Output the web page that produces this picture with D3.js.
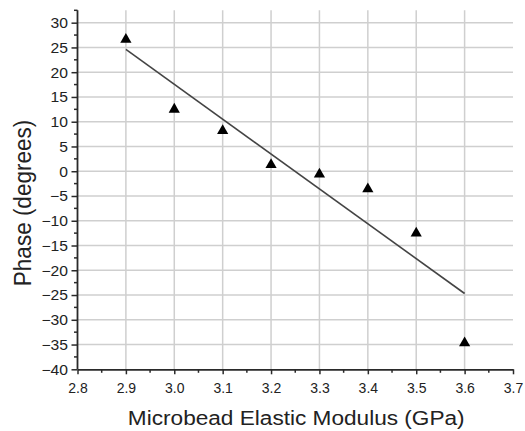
<!DOCTYPE html>
<html>
<head>
<meta charset="utf-8">
<script src="https://cdn.jsdelivr.net/npm/d3@7"></script>
<style>
  html, body { margin: 0; padding: 0; background: #fff; }
  svg { display: block; font-family: "Liberation Sans", Arial, sans-serif; }
</style>
</head>
<body>
<svg id="chart" width="525" height="431"></svg>
<script>
// Data
const modulus = [2.9, 3.0, 3.1, 3.2, 3.3, 3.4, 3.5, 3.6];
const phase = [26.9, 12.8, 8.5, 1.6, -0.3, -3.3, -12.2, -34.4];
const xTicks = [2.8, 2.9, 3.0, 3.1, 3.2, 3.3, 3.4, 3.5, 3.6, 3.7];
const yTicks = [-40, -35, -30, -25, -20, -15, -10, -5, 0, 5, 10, 15, 20, 25, 30];
const xTitle = "Microbead Elastic Modulus (GPa)";
const yTitle = "Phase (degrees)";

const svg = d3.select("#chart");
const mLeft = 77.5, mRight = 513, mTop = 10.3, mBottom = 369.3;

const x = d3.scaleLinear().domain([2.8, 3.7]).range([mLeft, mRight]);
const y = d3.scaleLinear().domain([-40, 32.5]).range([mBottom, mTop]);

// grid
const grid = svg.append("g");
grid.selectAll("line.v").data(xTicks.filter(d => d > 2.85 && d < 3.65)).enter()
  .append("line").attr("x1", d => x(d)).attr("x2", d => x(d))
  .attr("y1", mTop).attr("y2", mBottom)
  .attr("stroke", "#cfcfcf").attr("stroke-width", 1.5);
grid.selectAll("line.h").data(yTicks.filter(d => d > -40)).enter()
  .append("line").attr("y1", d => y(d)).attr("y2", d => y(d))
  .attr("x1", mLeft).attr("x2", mRight)
  .attr("stroke", "#cfcfcf").attr("stroke-width", 1.5);

// regression line computed from data
const mx = d3.mean(modulus), my = d3.mean(phase);
let sxy = 0, sxx = 0;
modulus.forEach((v, i) => { sxy += (v - mx) * (phase[i] - my); sxx += (v - mx) * (v - mx); });
const slope = sxy / sxx, icpt = my - slope * mx;
const xr = d3.extent(modulus);
svg.append("line")
  .attr("x1", x(xr[0])).attr("y1", y(icpt + slope * xr[0]))
  .attr("x2", x(xr[1])).attr("y2", y(icpt + slope * xr[1]))
  .attr("stroke", "#444").attr("stroke-width", 1.6);

// points (triangles)
svg.append("g").selectAll("path").data(modulus.map((d, i) => [d, phase[i]])).enter()
  .append("path")
  .attr("transform", d => `translate(${x(d[0])},${y(d[1])})`)
  .attr("d", "M0,-5L5.6,4.8L-5.6,4.8Z")
  .attr("fill", "#000");

// axes
const axisColor = "#2a2a2a";
const xAxis = svg.append("g").attr("transform", `translate(0,${mBottom})`)
  .call(d3.axisBottom(x).tickValues(xTicks).tickFormat(d3.format(".1f")).tickSize(5).tickSizeOuter(0));
const yAxis = svg.append("g").attr("transform", `translate(${mLeft},0)`)
  .call(d3.axisLeft(y).tickValues(yTicks).tickFormat(d3.format("d")).tickSize(6).tickSizeOuter(0));

[xAxis, yAxis].forEach(a => {
  a.select(".domain").attr("stroke", axisColor).attr("stroke-width", 1.8);
  a.selectAll(".tick line").attr("stroke", axisColor).attr("stroke-width", 1.5);
  a.selectAll("text").attr("fill", "#222").attr("font-size", 14)
    .attr("font-family", "'Liberation Sans', Arial, sans-serif");
});
yAxis.select(".domain").attr("d", `M0,${mTop}V${mBottom}`);
xAxis.selectAll(".tick text").attr("y", 14).attr("dy", "0.71em");
yAxis.selectAll(".tick text").attr("x", 0).attr("dy", "0.35em")
  .attr("transform", "translate(-9.5,0) scale(1.12,1)");

// minor ticks
const xMinor = xTicks.slice(0, -1).map(d => d + 0.05);
const yMinor = yTicks.map(d => d + 2.5);
svg.append("g").selectAll("line").data(xMinor).enter().append("line")
  .attr("x1", d => x(d)).attr("x2", d => x(d)).attr("y1", mBottom).attr("y2", mBottom + 3.5)
  .attr("stroke", axisColor).attr("stroke-width", 1.5);
svg.append("g").selectAll("line").data(yMinor).enter().append("line")
  .attr("y1", d => y(d)).attr("y2", d => y(d)).attr("x1", mLeft).attr("x2", mLeft - 3.5)
  .attr("stroke", axisColor).attr("stroke-width", 1.5);

// titles
svg.append("text")
  .attr("transform", `translate(${(mLeft + mRight) / 2 + 1},425) scale(1.16,1)`)
  .attr("text-anchor", "middle").attr("font-size", 19.5).attr("fill", "#222")
  .text(xTitle);
svg.append("text")
  .attr("transform", `translate(30.5,203) scale(1.1,1) rotate(-90)`)
  .attr("text-anchor", "middle").attr("font-size", 22.5).attr("fill", "#222")
  .text(yTitle);
</script>
</body>
</html>
